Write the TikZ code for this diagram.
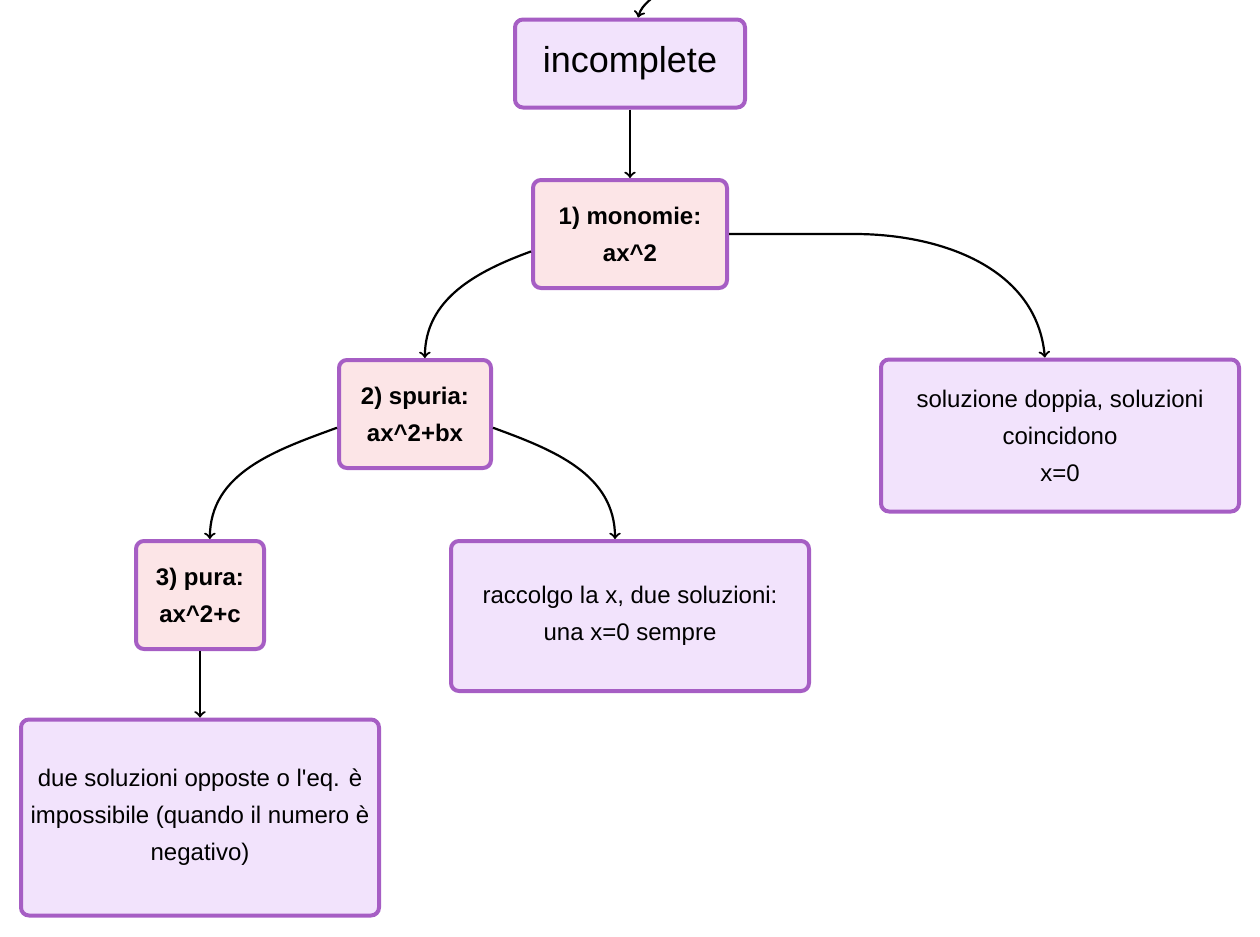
\documentclass[tikz,border=0pt]{standalone}
\usepackage{fontspec}
\setmainfont{Liberation Sans}

\definecolor{boxline}{HTML}{A65EC4}
\definecolor{lilac}{HTML}{F2E3FC}
\definecolor{blush}{HTML}{FCE5E7}

\begin{document}
\begin{tikzpicture}[x=0.5pt, y=-0.5pt]
    \tikzstyle{case box}=[
        draw = boxline,
        line width = 2pt,
        fill = blush,
        rounded corners = 4pt,
        align = center,
        font = \fontsize{12}{18.5}\selectfont\bfseries
    ]
    \tikzstyle{text box}=[
        draw = boxline,
        line width = 2pt,
        fill = lilac,
        rounded corners = 4pt,
        align = center,
        font = \fontsize{12}{18.5}\selectfont
    ]
    \tikzstyle{link}=[->, line width = 1.1pt]

    \useasboundingbox (0,0) rectangle (1260,937);

    \coordinate (src) at (662,-14);

	\node[text box, minimum width=115pt, minimum height=44pt, font=\fontsize{18}{20}\selectfont]
	    (inc)  at (630,63.5)  {incomplete};
	\node[case box, minimum width=97pt,  minimum height=54pt] (mono) at (630,234)   {1) monomie:\\ax\^{}2};
	\node[case box, minimum width=76pt,  minimum height=54pt] (spu)  at (415,414)   {2) spuria:\\ax\^{}2+bx};
	\node[case box, minimum width=64pt,  minimum height=54pt] (pura) at (200,595)   {3) pura:\\ax\^{}2+c};
	\node[text box, minimum width=179pt, minimum height=75pt] (racc) at (630,616)   {raccolgo la x, due soluzioni:\\una x=0 sempre};
	\node[text box, minimum width=179pt, minimum height=76pt] (sol)  at (1060,435.5) {soluzione doppia, soluzioni\\coincidono\\x=0};
	\node[text box, minimum width=179pt, minimum height=98pt] (due)  at (200,817.5) {due soluzioni opposte o l\textquotesingle eq. è\\impossibile (quando il numero è\\negativo)};

	\draw[link] (src) to[out=240, in=75] (inc.80);
	\path[link] (inc) edge (mono);
	\draw[link] (mono.190) to[out=200, in=90] (spu.80);
	\draw[link] (mono.east) -- ++(125,0) to[out=0, in=95] (sol.101);
	\draw[link] (spu.190) to[out=200, in=90] (pura.80);
	\draw[link] (spu.350) to[out=-20, in=90] (racc.101);
	\path[link] (pura) edge (due);

	\end{tikzpicture}
\end{document}
